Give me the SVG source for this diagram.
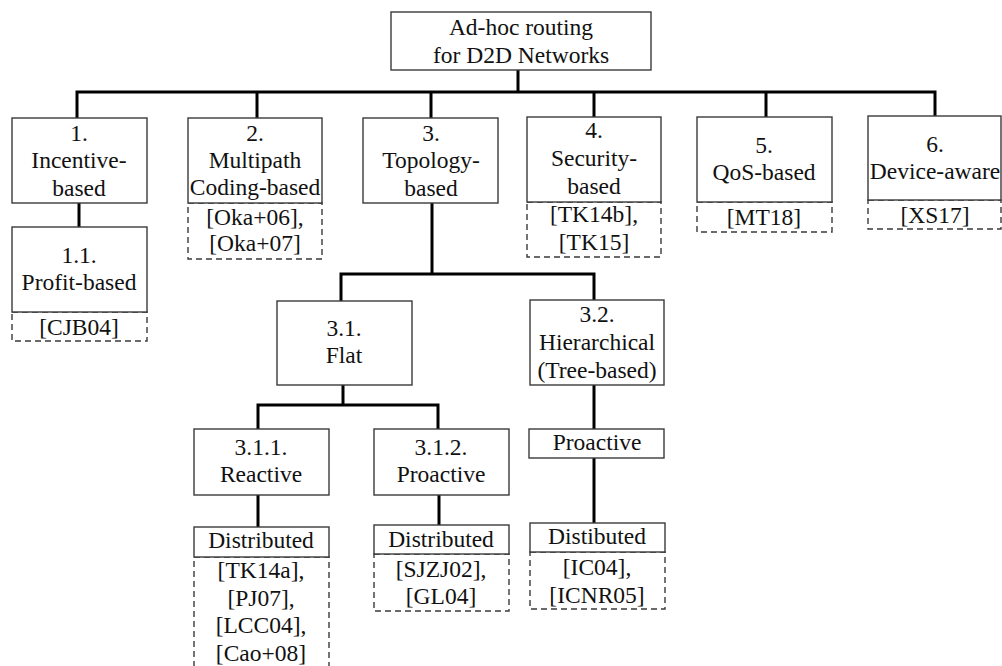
<svg xmlns="http://www.w3.org/2000/svg" width="1002" height="666" viewBox="0 0 1002 666">
<style>
.b{fill:#fff;stroke:#3a3a3a;stroke-width:1.4}
.d{fill:#fff;stroke:#3a3a3a;stroke-width:1.4;stroke-dasharray:6,4}
.c{fill:none;stroke:#000;stroke-width:3;stroke-linecap:square}
.t{font-family:'Liberation Serif','Times New Roman',serif;font-size:23.5px;fill:#111;text-anchor:middle}
</style>
<rect width="1002" height="666" fill="#fff"/>
<g id="connectors">
<path class="c" d="M518 70V92M77 92H935M77 92V117M257 92V117M431 92V117M594 92V116M766 92V116M935 92V115"/>
<path class="c" d="M79 204V226"/>
<path class="c" d="M432 204V274M341 274H594M341 274V300M594 274V299"/>
<path class="c" d="M343 386V405M258 405H438M258 405V428M438 405V428"/>
<path class="c" d="M258 496V526M439 496V524M594 386V428M594 459V522"/>
</g>
<g class="t">
<g id="root"><rect class="b" x="391" y="12" width="260" height="58"/><text x="521" y="35">Ad-hoc routing</text><text x="521" y="63">for D2D Networks</text></g>
<g id="n1"><rect class="b" x="12" y="118" width="135" height="85"/><text x="79" y="141">1.</text><text x="79" y="168">Incentive-</text><text x="79" y="196">based</text></g>
<g id="n1-1"><rect class="d" x="12" y="312" width="135" height="29"/><rect class="b" x="12" y="227" width="135" height="85"/><text x="79" y="263">1.1.</text><text x="79" y="290">Profit-based</text><text x="79" y="335">[CJB04]</text></g>
<g id="n2"><rect class="d" x="188" y="203" width="134" height="56"/><rect class="b" x="188" y="118" width="134" height="85"/><text x="255" y="141">2.</text><text x="255" y="168">Multipath</text><text x="255" y="195">Coding-based</text><text x="255" y="225">[Oka+06],</text><text x="255" y="251">[Oka+07]</text></g>
<g id="n3"><rect class="b" x="363" y="118" width="135" height="85"/><text x="431" y="141">3.</text><text x="431" y="168">Topology-</text><text x="431" y="196">based</text></g>
<g id="n4"><rect class="d" x="527" y="202" width="134" height="55"/><rect class="b" x="527" y="117" width="134" height="85"/><text x="594" y="138">4.</text><text x="594" y="166">Security-</text><text x="594" y="194">based</text><text x="594" y="222">[TK14b],</text><text x="594" y="250">[TK15]</text></g>
<g id="n5"><rect class="d" x="697" y="202" width="135" height="30"/><rect class="b" x="697" y="117" width="135" height="85"/><text x="764" y="153">5.</text><text x="764" y="180">QoS-based</text><text x="764" y="225">[MT18]</text></g>
<g id="n6"><rect class="d" x="868" y="200" width="133" height="29"/><rect class="b" x="868" y="116" width="133" height="84"/><text x="935" y="152">6.</text><text x="935" y="179">Device-aware</text><text x="935" y="223">[XS17]</text></g>
<g id="n3-1"><rect class="b" x="277" y="301" width="135" height="84"/><text x="344" y="336">3.1.</text><text x="344" y="363">Flat</text></g>
<g id="n3-2"><rect class="b" x="530" y="300" width="134" height="85"/><text x="597" y="322">3.2.</text><text x="597" y="350">Hierarchical</text><text x="597" y="378">(Tree-based)</text></g>
<g id="n3-1-1"><rect class="b" x="194" y="429" width="135" height="66"/><text x="261" y="455">3.1.1.</text><text x="261" y="482">Reactive</text></g>
<g id="n3-1-2"><rect class="b" x="374" y="429" width="135" height="66"/><text x="441" y="455">3.1.2.</text><text x="441" y="482">Proactive</text></g>
<g id="n3-2-p"><rect class="b" x="529" y="429" width="135" height="29"/><text x="597" y="450">Proactive</text></g>
<g id="n3-1-1-d"><rect class="d" x="194" y="557" width="135" height="120"/><rect class="b" x="194" y="527" width="135" height="30"/><text x="261" y="548">Distributed</text><text x="261" y="578">[TK14a],</text><text x="261" y="606">[PJ07],</text><text x="261" y="633">[LCC04],</text><text x="261" y="661">[Cao+08]</text></g>
<g id="n3-1-2-d"><rect class="d" x="374" y="554" width="135" height="57"/><rect class="b" x="374" y="525" width="135" height="29"/><text x="441" y="547">Distributed</text><text x="441" y="577">[SJZJ02],</text><text x="441" y="604">[GL04]</text></g>
<g id="n3-2-d"><rect class="d" x="530" y="552" width="135" height="57"/><rect class="b" x="530" y="523" width="135" height="29"/><text x="597" y="544">Distibuted</text><text x="597" y="575">[IC04],</text><text x="597" y="603">[ICNR05]</text></g>
</g>
</svg>
